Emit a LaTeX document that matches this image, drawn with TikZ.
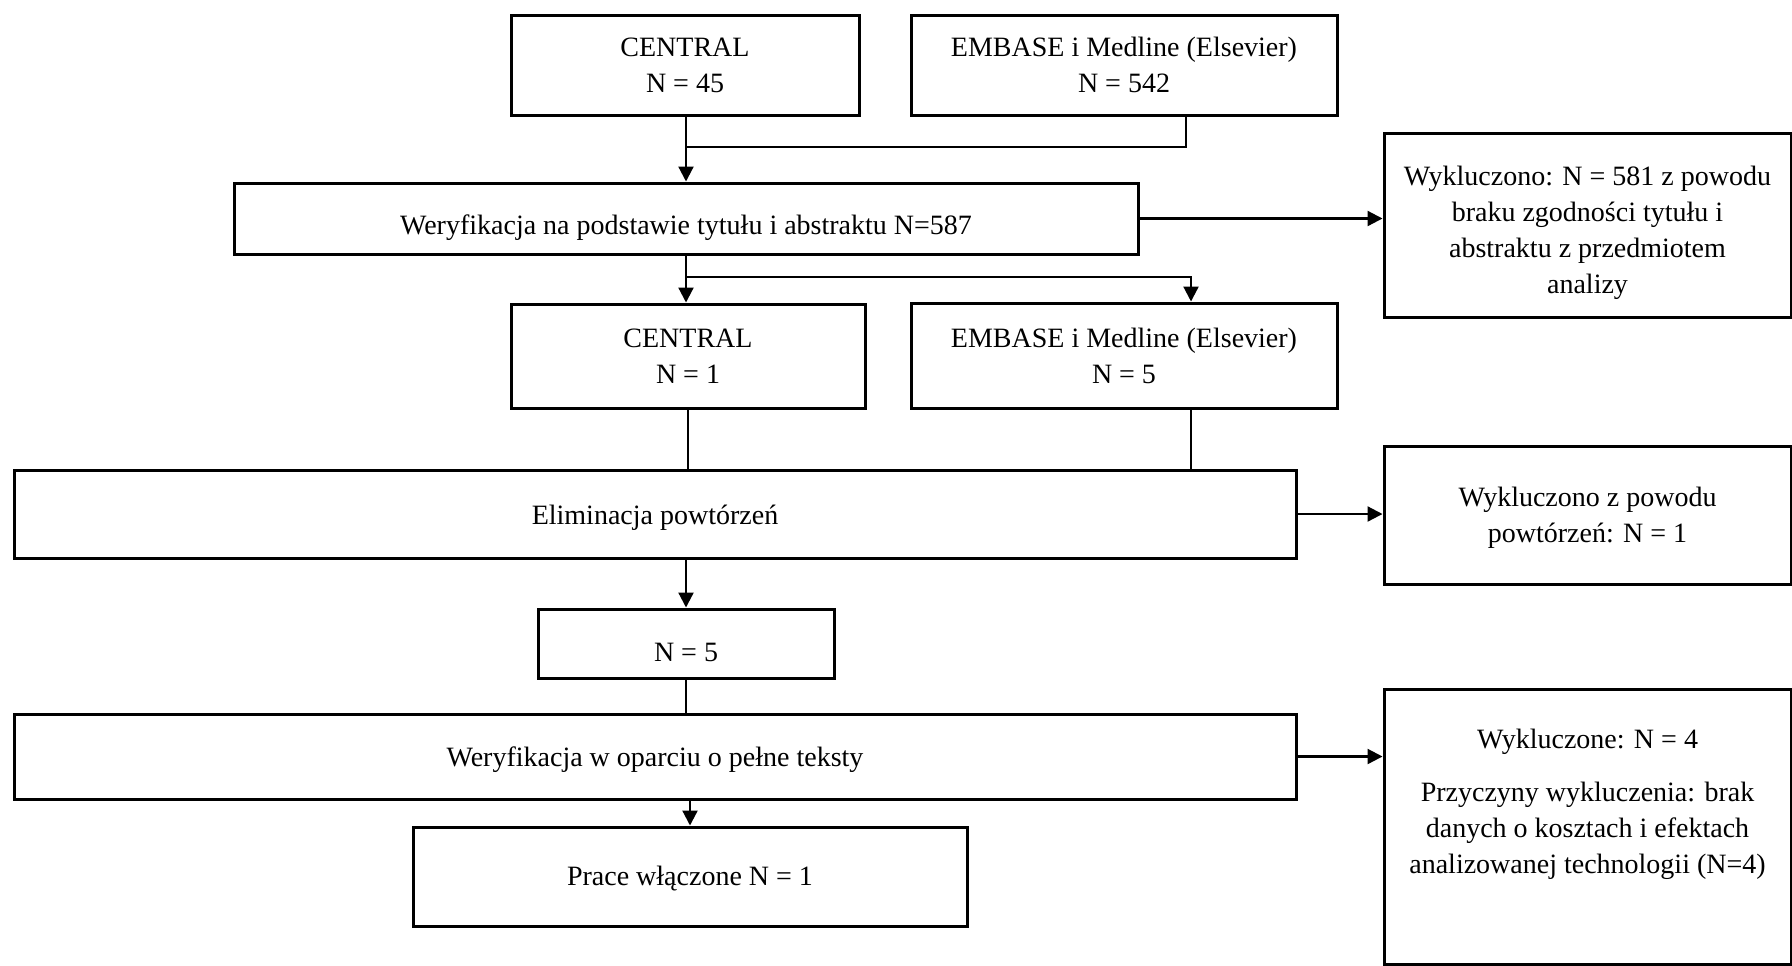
\documentclass[tikz,border=0pt]{standalone}
\usepackage{fontspec}
\setmainfont{Liberation Serif}
\usetikzlibrary{arrows.meta}
\newcommand{\dn}[2]{\raisebox{-#1}[\height][\depth]{#2}}
\begin{document}
\begin{tikzpicture}[x=0.5pt,y=-0.5pt,
  box/.style={draw=black,line width=1.5pt,rectangle,inner sep=0pt,align=center,
    font=\fontsize{14}{18}\selectfont},
  conn/.style={line width=1.1pt},
  arr/.style={line width=1.1pt,-{Triangle[length=7.5pt,width=7.5pt]}},
  txt/.style={align=center,inner sep=0pt,font=\fontsize{14}{18}\selectfont}]
\useasboundingbox (0,0) rectangle (1792,965);
% nodes
\node[box,minimum width=174pt,minimum height=50pt] (c1) at (685,65) {CENTRAL\\N = 45};
\node[box,minimum width=213pt,minimum height=50pt] (e1) at (1124,65) {EMBASE i Medline (Elsevier)\\N = 542};
\node[box,minimum width=452pt,minimum height=35.5pt] (w1) at (686,218.5) {\dn{4.5pt}{Weryfikacja na podstawie tytułu i abstraktu N=587}};
\node[box,minimum width=203.5pt,minimum height=92pt] (x1) at (1587.5,225) {\dn{3.5pt}{\begin{tabular}{@{}c@{}}Wykluczono: N = 581 z powodu\\braku zgodności tytułu i\\abstraktu z przedmiotem\\analizy\end{tabular}}};
\node[box,minimum width=177pt,minimum height=52pt] (c2) at (688,356) {CENTRAL\\N = 1};
\node[box,minimum width=213pt,minimum height=52.5pt] (e2) at (1124,355.5) {EMBASE i Medline (Elsevier)\\N = 5};
\node[box,minimum width=641pt,minimum height=44pt] (el) at (655,514) {\dn{1.7pt}{Eliminacja powtórzeń}};
\node[box,minimum width=203.5pt,minimum height=69pt] (x2) at (1587.5,515) {\dn{1pt}{\begin{tabular}{@{}c@{}}Wykluczono z powodu\\powtórzeń: N = 1\end{tabular}}};
\node[box,minimum width=148pt,minimum height=34.5pt] (n5) at (686,643.5) {\dn{4.5pt}{N = 5}};
\node[box,minimum width=641pt,minimum height=42.5pt] (w2) at (655,756.5) {\dn{1.7pt}{Weryfikacja w oparciu o pełne teksty}};
\node[box,minimum width=277pt,minimum height=49.5pt] (pr) at (690,876.5) {\dn{1pt}{Prace włączone N = 1}};
\node[box,minimum width=203.5pt,minimum height=137.5pt] (x3) at (1587.5,826.5) {};
\node[txt] (x3t) at (1587.5,804.5) {Wykluczone: N = 4\\[8.5pt]Przyczyny wykluczenia: brak\\danych o kosztach i efektach\\analizowanej technologii (N=4)};
% connectors
\coordinate (j1) at (686,147);
\coordinate (j2) at (686,277);
\draw[arr] (c1.south -| j1) -- (j1 |- w1.north);
\draw[conn] ([xshift=31pt]e1.south) |- (j1);
\draw[arr] (w1.east) -- (w1.east -| x1.west);
\draw[arr] (w1.south -| j2) -- (j2 |- c2.north);
\draw[arr] (j2) -| ([xshift=33.5pt]e2.north);
\draw[conn] (c2.south) -- (c2.south |- el.north);
\draw[line width=0.7pt] ([xshift=33.5pt]e2.south) -- ([xshift=33.5pt]e2.south |- el.north);
\draw[arr] (el.east) -- (el.east -| x2.west);
\draw[arr] (n5.north |- el.south) -- (n5.north);
\draw[conn] (n5.south) -- (n5.south |- w2.north);
\draw[arr] (w2.east) -- (w2.east -| x3.west);
\draw[arr] (pr.north |- w2.south) -- (pr.north);
\end{tikzpicture}
\end{document}
